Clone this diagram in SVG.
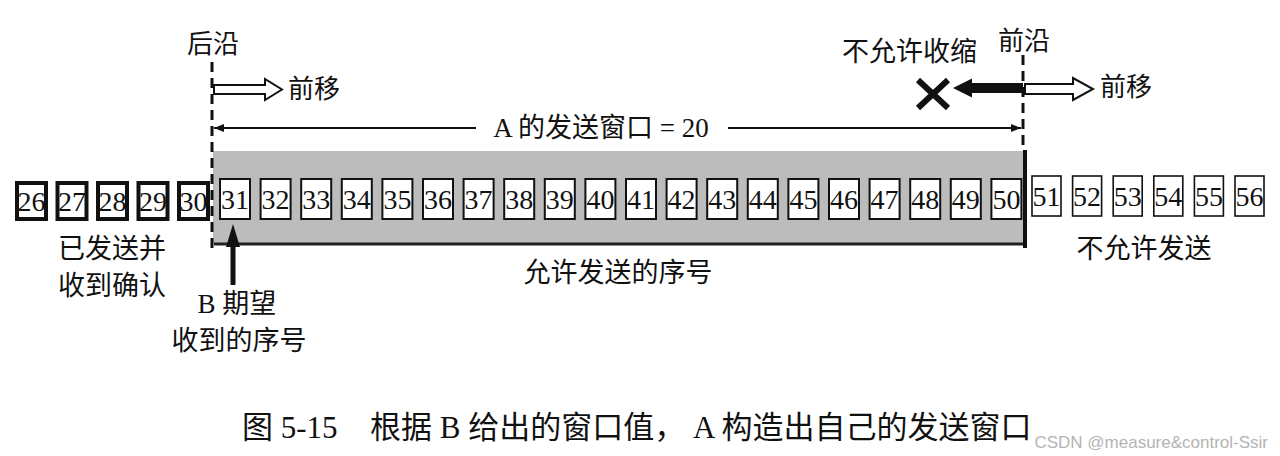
<svg xmlns="http://www.w3.org/2000/svg" width="1280" height="456" viewBox="0 0 1280 456">
<defs>
<style>
.t{font-family:"Liberation Serif","Noto Sans CJK SC",serif;fill:#111}
.lab{font-size:26px}
.num{font-size:28px;text-anchor:middle}
.bk{fill:#fff;stroke:#111;stroke-width:4}
.bm{fill:#fff;stroke:#111;stroke-width:2}
.br{fill:#fff;stroke:#111;stroke-width:1.6}
.dash{stroke:#111;stroke-width:3;stroke-dasharray:10 6;fill:none}
.hollow{fill:#fff;stroke:#111;stroke-width:2;stroke-linejoin:miter}
</style>
<marker id="ah" viewBox="0 0 10 8" refX="10" refY="4" markerWidth="10" markerHeight="8" markerUnits="userSpaceOnUse" orient="auto-start-reverse">
<path d="M0,0 L10,4 L0,8 Z" fill="#111"/>
</marker>
</defs>
<rect width="1280" height="456" fill="#fff"/>

<g id="window-region">
<rect x="213" y="151" width="811" height="92" fill="#bcbcbc"/>
<line x1="214" y1="244" x2="1024" y2="244" stroke="#222" stroke-width="3"/>
<line x1="1025" y1="150" x2="1025" y2="248" stroke="#111" stroke-width="4"/>
</g>

<g id="connectors">
<line class="dash" x1="212" y1="62" x2="212" y2="252"/>
<line class="dash" x1="1023" y1="55" x2="1023" y2="150"/>
<polygon id="left-move" class="hollow" points="214,85 265,85 265,79 282,89.5 265,100 265,94 214,94"/>
<polygon id="right-move" class="hollow" points="1025,84 1073,84 1073,78 1093,89 1073,100 1073,94 1025,94"/>
<polygon id="no-shrink" fill="#111" points="1023,83 972,83 972,78.5 953,88 972,97.5 972,93 1023,93"/>
<g id="cross" stroke="#111" stroke-width="6">
<line x1="918" y1="80" x2="948" y2="108"/>
<line x1="948" y1="80" x2="918" y2="108"/>
</g>
<line x1="214" y1="128" x2="476" y2="128" stroke="#111" stroke-width="2" marker-start="url(#ah)"/>
<line x1="728" y1="128" x2="1021" y2="128" stroke="#111" stroke-width="2" marker-end="url(#ah)"/>
<polygon id="expect-arrow" fill="#111" points="233,224 240,247 235.5,247 235.5,285 230.5,285 230.5,247 226,247"/>
</g>

<g id="acked-boxes">
<rect class="bk" x="17" y="183" width="29" height="36"/><text class="t num" x="31.5" y="211">26</text>
<rect class="bk" x="57.5" y="183" width="29" height="36"/><text class="t num" x="72" y="211">27</text>
<rect class="bk" x="98" y="183" width="29" height="36"/><text class="t num" x="112.5" y="211">28</text>
<rect class="bk" x="138.5" y="183" width="29" height="36"/><text class="t num" x="153" y="211">29</text>
<rect class="bk" x="179" y="183" width="29" height="36"/><text class="t num" x="193.5" y="211">30</text>
</g>

<g id="window-boxes">
<rect class="bm" x="220" y="179" width="30" height="40"/><text class="t num" x="235" y="209">31</text>
<rect class="bm" x="260.6" y="179" width="30" height="40"/><text class="t num" x="275.6" y="209">32</text>
<rect class="bm" x="301.2" y="179" width="30" height="40"/><text class="t num" x="316.2" y="209">33</text>
<rect class="bm" x="341.8" y="179" width="30" height="40"/><text class="t num" x="356.8" y="209">34</text>
<rect class="bm" x="382.4" y="179" width="30" height="40"/><text class="t num" x="397.4" y="209">35</text>
<rect class="bm" x="423" y="179" width="30" height="40"/><text class="t num" x="438" y="209">36</text>
<rect class="bm" x="463.6" y="179" width="30" height="40"/><text class="t num" x="478.6" y="209">37</text>
<rect class="bm" x="504.2" y="179" width="30" height="40"/><text class="t num" x="519.2" y="209">38</text>
<rect class="bm" x="544.8" y="179" width="30" height="40"/><text class="t num" x="559.8" y="209">39</text>
<rect class="bm" x="585.4" y="179" width="30" height="40"/><text class="t num" x="600.4" y="209">40</text>
<rect class="bm" x="626" y="179" width="30" height="40"/><text class="t num" x="641" y="209">41</text>
<rect class="bm" x="666.6" y="179" width="30" height="40"/><text class="t num" x="681.6" y="209">42</text>
<rect class="bm" x="707.2" y="179" width="30" height="40"/><text class="t num" x="722.2" y="209">43</text>
<rect class="bm" x="747.8" y="179" width="30" height="40"/><text class="t num" x="762.8" y="209">44</text>
<rect class="bm" x="788.4" y="179" width="30" height="40"/><text class="t num" x="803.4" y="209">45</text>
<rect class="bm" x="829" y="179" width="30" height="40"/><text class="t num" x="844" y="209">46</text>
<rect class="bm" x="869.6" y="179" width="30" height="40"/><text class="t num" x="884.6" y="209">47</text>
<rect class="bm" x="910.2" y="179" width="30" height="40"/><text class="t num" x="925.2" y="209">48</text>
<rect class="bm" x="950.8" y="179" width="30" height="40"/><text class="t num" x="965.8" y="209">49</text>
<rect class="bm" x="991.4" y="179" width="30" height="40"/><text class="t num" x="1006.4" y="209">50</text>
</g>

<g id="blocked-boxes">
<rect class="br" x="1032" y="176" width="29" height="40"/><text class="t num" x="1046.5" y="206">51</text>
<rect class="br" x="1072.6" y="176" width="29" height="40"/><text class="t num" x="1087.1" y="206">52</text>
<rect class="br" x="1113.2" y="176" width="29" height="40"/><text class="t num" x="1127.7" y="206">53</text>
<rect class="br" x="1153.8" y="176" width="29" height="40"/><text class="t num" x="1168.3" y="206">54</text>
<rect class="br" x="1194.4" y="176" width="29" height="40"/><text class="t num" x="1208.9" y="206">55</text>
<rect class="br" x="1235" y="176" width="29" height="40"/><text class="t num" x="1249.5" y="206">56</text>
</g>

<g id="labels">
<text class="t lab" x="187" y="53">后沿</text>
<text class="t lab" x="288" y="98">前移</text>
<text class="t lab" x="998" y="50">前沿</text>
<text class="t" x="842" y="61" font-size="27">不允许收缩</text>
<text class="t lab" x="1100" y="96">前移</text>
<text class="t" x="601" y="137" font-size="27" text-anchor="middle">A 的发送窗口 = 20</text>
<text class="t" x="112" y="258" font-size="27" text-anchor="middle">已发送并</text>
<text class="t" x="112" y="295" font-size="27" text-anchor="middle">收到确认</text>
<text class="t" x="237" y="313" font-size="27" text-anchor="middle">B 期望</text>
<text class="t" x="239" y="350" font-size="27" text-anchor="middle">收到的序号</text>
<text class="t" x="618" y="282" font-size="27" text-anchor="middle">允许发送的序号</text>
<text class="t" x="1144" y="258" font-size="27" text-anchor="middle">不允许发送</text>
</g>

<g id="caption">
<text class="t" font-size="31" y="438"><tspan x="242">图 5-15</tspan><tspan x="370">根据 B 给出的窗口值，</tspan><tspan x="693">A 构造出自己的发送窗口</tspan></text>
</g>
<text x="1268" y="448" font-family="Liberation Sans, Arial, sans-serif" font-size="17" fill="#b4b4b4" text-anchor="end">CSDN @measure&amp;control-Ssir</text>
</svg>
